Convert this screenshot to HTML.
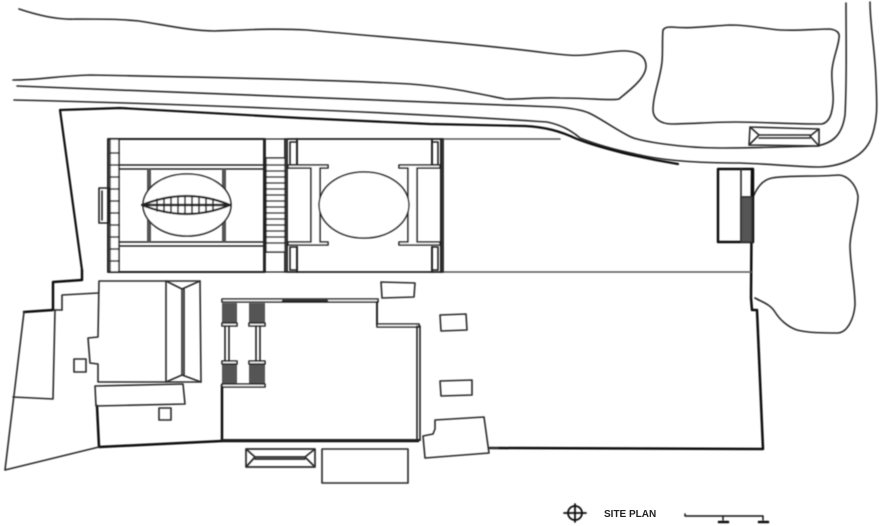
<!DOCTYPE html>
<html><head><meta charset="utf-8"><style>
html,body{margin:0;padding:0;background:#fff;width:882px;height:526px;overflow:hidden}
svg{display:block}
</style></head><body>
<svg width="882" height="526" viewBox="0 0 882 526" xmlns="http://www.w3.org/2000/svg">
<defs><filter id="b"><feGaussianBlur stdDeviation="0.45"/></filter></defs>
<g filter="url(#b)" fill="none" stroke="#2a2a2a" stroke-width="1.6" stroke-linejoin="round" stroke-linecap="round">
<!-- road / landscape -->
<path d="M19 9C40 16 60 20 76 19C100 19 120 19 139 21C165 25 190 31 215 31C245 30 275 28 307 30C380 37 470 43 547 53C565 55 575 56 585 55C600 54 615 50 627 51C640 52 646 58 646 66C646 78 630 90 619 99C612 101 590 98 560 98C535 97 520 100 505 99C480 94 450 87 410 84C340 80 200 77 90 75C55 76 40 80 13 80"/>
<path d="M17 86C150 90 300 97 555 107C572 108 582 110 589 113C600 118 618 131 631 137C640 141 680 148 720 148C750 148 785 147 817 146C832 143 842 136 845 115C847 80 846 40 846 3"/>
<path d="M14 100C150 103 400 112 547 122C562 125 572 131 580 138C600 146 625 152 640 155C670 162 710 163 740 163C770 164 800 167 820 167C845 166 866 155 872 136C878 118 877 105 876 80C875 50 870 25 870 2"/>
<path d="M663 30C665 27 668 27 672 27C690 29 710 26 730 25C750 25 765 29 780 30C800 31 815 29 830 29C837 30 840 33 839 38C838 48 833 58 832 70C831 82 834 92 833 103C832 113 830 122 822 124C790 124 760 122 735 122C712 122 690 124 672 124C660 124 653 118 653 110C653 95 660 80 662 62C663 50 662 40 663 30Z"/>
<path d="M753 197C757 188 762 180 772 178C790 175 815 177 838 175C847 175 856 184 858 196C858 212 851 225 850 245C850 265 855 285 855 305C854 318 848 332 838 333C825 333 808 333 797 330C788 327 780 320 775 312C770 304 762 302 755 298"/>
<!-- east building roof -->
<path d="M750 127L819 129L819 146L749 145ZM750 127L759 135L749 145M819 129L810 136L819 146M759 135H810M759 138H810"/>
<!-- boundary -->
<g stroke="#111" stroke-width="2.5">
<path d="M82 270L82 280L53 282L53 310L24 312"/>
<path d="M82 270L60 110L120 108L300 118L430 124L525 126C545 127 560 131 577 139C600 148 640 158 678 164" stroke-width="2.2"/>
<path d="M718 169H753V242H718Z"/>
<path d="M752 169L751 298L752 310H757L763 449L490 448"/>
<path d="M97 406L99 447L222 441H418"/>
<path d="M222 385V441"/>
</g>
<path d="M443 139H560M443 272H751" stroke="#555"/>
<path d="M741 169V242M741 197H752"/>
<rect x="741" y="197" width="11" height="45" fill="#555" stroke="#333"/>
<!-- west -->
<path d="M24 312L5 470L99 447M13 397L53 399L55 310"/>
<path d="M62 310L62 295L98 293"/>
<path d="M54 310H62"/>
<path d="M99 281H200L201 382H98L98 364L90 363L88 338L98 337L99 281Z"/>
<path d="M166 281V382M182 289V375M184 289V375M166 281L182 289L200 281M166 382L182 375L201 382"/>
<path d="M95 386L183 384L185 404L96 406Z"/>
<rect x="74" y="359" width="12" height="13"/>
<rect x="159" y="408" width="12" height="12"/>
<!-- temple left -->
<g stroke="#222">
<path d="M108 139H264V272H108Z" stroke-width="2"/>
<path d="M264 139H287M264 272H287" stroke-width="1.2"/>
<rect x="110" y="139" width="9" height="133" fill="#fff" stroke-width="1.5"/>
<path d="M110 153H119M110 165H119M110 177H119M110 189H119M110 201H119M110 213H119M110 225H119M110 237H119M110 249H119M110 261H119"/>
<path d="M99 188H109V223H99Z"/>
<path d="M102 191V220"/>
<path d="M119 165H264M119 169H264M119 242H264M119 246H264"/>
<rect x="147" y="169" width="4" height="73" fill="#555" stroke="none"/>
<rect x="222" y="169" width="4" height="73" fill="#555" stroke="none"/>
<ellipse cx="187" cy="205" rx="44" ry="31" fill="#fff" stroke-width="1.6"/>
<path d="M142 205Q187 187 230 205Q187 223 142 205Z" fill="#fff" stroke-width="2.2"/>
<path d="M144 205H229" stroke-width="2.4"/>
<path d="M157 199V211M164 198V212M171 197V213M178 197V213M185 197V213M192 197V213M199 197V213M206 198V212M213 199V211" stroke-width="1.6"/>
<!-- stairs -->
<path d="M265 139V272M285 139V272" stroke-width="1.8"/>
<rect x="266" y="158" width="19" height="94" fill="#fff" stroke-width="1.4"/>
<path d="M266 165H285M266 171H285M266 177H285M266 183H285M266 189H285M266 195H285M266 201H285M266 207H285M266 213H285M266 219H285M266 225H285M266 231H285M266 237H285M266 243H285"/>
<!-- temple right -->
<path d="M287 139H443V272H287Z" stroke-width="1.8"/>
<path d="M297 139V165M297 247V272M432 139V165M432 247V272" stroke-width="2"/>
<rect x="290" y="142" width="7" height="23"/>
<rect x="290" y="247" width="7" height="23"/>
<rect x="432" y="142" width="6" height="23"/>
<rect x="432" y="247" width="6" height="23"/>
<path d="M288 165H328V168H320V242H328V245H288V242H311V168H288Z" fill="#fff"/>
<path d="M440 165H399V168H408V242H399V245H440V242H417V168H440Z" fill="#fff"/>
<path d="M441 139V272" stroke-width="2"/>
<ellipse cx="364" cy="205" rx="45" ry="33" fill="#fff" stroke-width="1.6"/>
</g>
<!-- central building -->
<g stroke="#222">
<path d="M222 299H378V302H222Z" fill="#fff"/>
<path d="M283 301H327" stroke-width="2.4"/>
<path d="M377 302V325H419" stroke-width="2"/>
<path d="M377 324H419V327H377Z" fill="#fff"/>
<path d="M417 326V439M420 326V439" stroke-width="1.6"/>
<path d="M222 440H420" stroke-width="2"/>
<g fill="#555" stroke="none">
<rect x="222" y="303" width="15" height="22"/>
<rect x="249" y="303" width="16" height="22"/>
<rect x="222" y="363" width="15" height="21"/>
<rect x="249" y="363" width="16" height="21"/>
</g>
<path d="M222 323H237V326H222ZM249 323H265V326H249ZM222 361H237V364H222ZM249 361H265V364H249ZM222 384H265V387H222Z" fill="#fff"/>
<path d="M225 326V361M229 326V361M256 326V361M260 326V361"/>
</g>
<path d="M381 282L415 283L414 297L382 298Z"/>
<path d="M440 315L466 314L467 330L441 331Z"/>
<path d="M440 381L472 380L472 395L441 396Z"/>
<path d="M435 420L484 417L489 453L425 458L423 436L433 434L435 429Z"/>
<path d="M246 449H315V467H246ZM246 449L255 457L246 467M315 449L305 457L315 467M255 457H305M255 459H305" stroke-width="1.7"/>
<rect x="322" y="449" width="86" height="34"/>
<path d="M490 448H498" stroke-width="2"/>
<!-- legend -->
<circle cx="575" cy="513" r="7" stroke="#111" stroke-width="1.8"/>
<path d="M564 513H586M575 504V522" stroke="#111" stroke-width="1.8"/>
<path d="M685 514V516H763V520M723 516V520" stroke="#111" stroke-width="1.4"/>
<path d="M719 522H728M759 522H768" stroke="#111" stroke-width="2.6"/>
</g>
<text x="604" y="517" font-family="Liberation Sans, sans-serif" font-size="10" font-weight="bold" fill="#222">SITE PLAN</text>
</svg>
</body></html>
